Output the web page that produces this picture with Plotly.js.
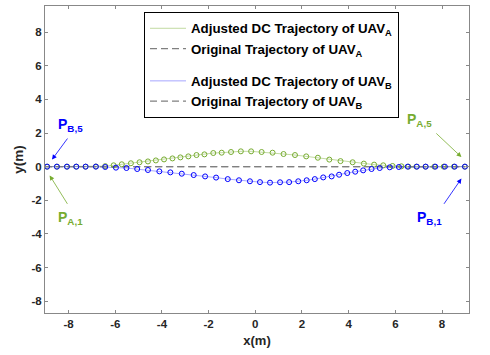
<!DOCTYPE html>
<html>
<head>
<meta charset="utf-8">
<script src="https://cdn.plot.ly/plotly-3.0.1.min.js"></script>
<style>html,body{margin:0;padding:0;background:#fff;}#chart{width:490px;height:355px;}</style>
</head>
<body>
<div id="chart"></div>
<script>
// UAV A adjusted trajectory (from P_A,1 at left to P_A,5 at right)
const uavAx = [-8.92,-8.50,-8.07,-7.67,-7.27,-6.83,-6.43,-6.07,-5.72,-5.33,-4.96,-4.60,-4.26,-3.91,-3.55,-3.21,-2.87,-2.52,-2.18,-1.80,-1.44,-1.04,-0.62,-0.18,0.27,0.74,1.21,1.70,2.18,2.68,3.17,3.65,4.17,4.65,5.09,5.48,5.88,6.26,6.56,6.90,7.29,7.67,8.07,8.51,8.98];
const uavAy = [0,0,0,0,0,0.01,0.03,0.08,0.14,0.20,0.26,0.31,0.37,0.43,0.49,0.55,0.61,0.69,0.73,0.81,0.83,0.87,0.91,0.91,0.87,0.83,0.75,0.69,0.61,0.53,0.42,0.33,0.26,0.18,0.12,0.08,0.04,0.02,0,0,0,0,0,0,0];
// UAV B adjusted trajectory (from P_B,1 at right to P_B,5 at left)
const uavBx = [8.98,8.54,8.12,7.71,7.30,6.92,6.53,6.15,5.76,5.33,4.98,4.62,4.28,3.94,3.59,3.27,2.91,2.55,2.20,1.84,1.45,1.06,0.63,0.20,-0.23,-0.70,-1.18,-1.68,-2.15,-2.64,-3.15,-3.64,-4.11,-4.60,-5.06,-5.52,-5.97,-6.43,-6.83,-7.27,-7.67,-8.07,-8.50,-8.92];
const uavBy = [0,0,0,0,0,0,0,-0.02,-0.04,-0.08,-0.14,-0.22,-0.30,-0.38,-0.48,-0.58,-0.64,-0.74,-0.81,-0.87,-0.92,-0.93,-0.95,-0.92,-0.87,-0.81,-0.74,-0.65,-0.58,-0.50,-0.42,-0.34,-0.28,-0.20,-0.14,-0.08,-0.06,-0.02,0,0,0,0,0,0];
// Original (straight) trajectories, both along y = 0
const origAx = [-9, 9];
const origAy = [0, 0];
const origBx = [-9, 9];
const origBy = [0, 0];

const xTicks = [-8,-6,-4,-2,0,2,4,6,8];
const yTicks = [-8,-6,-4,-2,0,2,4,6,8];

const green = 'rgb(119,172,48)';
const blue = 'rgb(0,0,255)';
const gray = 'rgb(128,128,128)';
const fam = 'Liberation Sans, Arial, sans-serif';

const traces = [
  {x: uavAx, y: uavAy, mode: 'lines', name: 'Adjusted DC Trajectory of UAV<sub>A</sub>',
   line: {color: 'rgba(119,172,48,0.45)', width: 1}, legendgroup: 'A'},
  {x: origAx, y: origAy, mode: 'lines', name: 'Original Trajectory of UAV<sub>A</sub>',
   line: {color: gray, width: 1.3, dash: '7px,4px'}, legendgroup: 'A'},
  {x: uavBx, y: uavBy, mode: 'lines', name: 'Adjusted DC Trajectory of UAV<sub>B</sub>',
   line: {color: 'rgba(0,0,255,0.35)', width: 1}, legendgroup: 'B'},
  {x: origBx, y: origBy, mode: 'lines', name: 'Original Trajectory of UAV<sub>B</sub>',
   line: {color: gray, width: 1.3, dash: '7px,4px'}, legendgroup: 'B'},
  {x: uavAx, y: uavAy, mode: 'markers', showlegend: false, legendgroup: 'A',
   marker: {symbol: 'circle-open', size: 5, color: green, line: {width: 1, color: green}}},
  {x: uavBx, y: uavBy, mode: 'markers', showlegend: false, legendgroup: 'B',
   marker: {symbol: 'circle-open', size: 5, color: blue, line: {width: 1, color: blue}}}
];

function arrow(hx, hy, tx, ty, col) {
  return {x: hx, y: hy, ax: tx, ay: ty, axref: 'x', ayref: 'y', xref: 'x', yref: 'y',
    text: '', showarrow: true, arrowhead: 2, arrowsize: 1.2, arrowwidth: 0.8,
    arrowcolor: col, standoff: 0, startstandoff: 0};
}
function label(x, y, txt, col) {
  return {x: x, y: y, xref: 'x', yref: 'y', text: txt, showarrow: false,
    xanchor: 'center', yanchor: 'middle',
    font: {family: fam, size: 14, color: col, weight: 'bold'}};
}

const layout = {
  width: 490, height: 355,
  margin: {l: 45, r: 21, t: 6, b: 42},
  paper_bgcolor: '#fff', plot_bgcolor: '#fff',
  showlegend: true,
  legend: {x: 0.2335, y: 0.98, xanchor: 'left', yanchor: 'top',
    bgcolor: '#fff', bordercolor: '#000', borderwidth: 1,
    traceorder: 'grouped', tracegroupgap: 12, itemwidth: 36,
    font: {family: fam, size: 13.3, color: '#000', weight: 'bold'}},
  xaxis: {range: [-9.01, 9.155], tickvals: xTicks, ticktext: xTicks.map(String),
    ticks: 'inside', ticklen: 3, tickcolor: '#888', showline: true, linecolor: '#888', linewidth: 1,
    mirror: 'ticks', showgrid: false, zeroline: false,
    tickfont: {family: fam, size: 11.5, color: '#262626', weight: 'bold'},
    title: {text: 'x(m)', standoff: 7, font: {family: fam, size: 13, color: '#262626', weight: 'bold'}}},
  yaxis: {range: [-8.7, 9.55], tickvals: yTicks, ticktext: yTicks.map(String),
    ticks: 'inside', ticklen: 3, tickcolor: '#888', showline: true, linecolor: '#888', linewidth: 1,
    mirror: 'ticks', showgrid: false, zeroline: false,
    tickfont: {family: fam, size: 11.5, color: '#262626', weight: 'bold'},
    title: {text: 'y(m)', standoff: 4, font: {family: fam, size: 13.5, color: '#262626', weight: 'bold'}}},
  annotations: [
    arrow(-8.71, 0.42, -8.0, 1.76, blue),
    label(-7.9, 2.45, 'P<sub>B,5</sub>', blue),
    arrow(-8.81, -0.52, -8.01, -2.30, green),
    label(-7.9, -3.05, 'P<sub>A,1</sub>', green),
    arrow(8.83, 0.57, 7.69, 2.06, green),
    label(7.05, 2.75, 'P<sub>A,5</sub>', green),
    arrow(8.83, -0.71, 8.04, -2.30, blue),
    label(7.45, -3.05, 'P<sub>B,1</sub>', blue)
  ]
};

Plotly.newPlot('chart', traces, layout, {displayModeBar: false, staticPlot: true});
</script>
</body>
</html>
